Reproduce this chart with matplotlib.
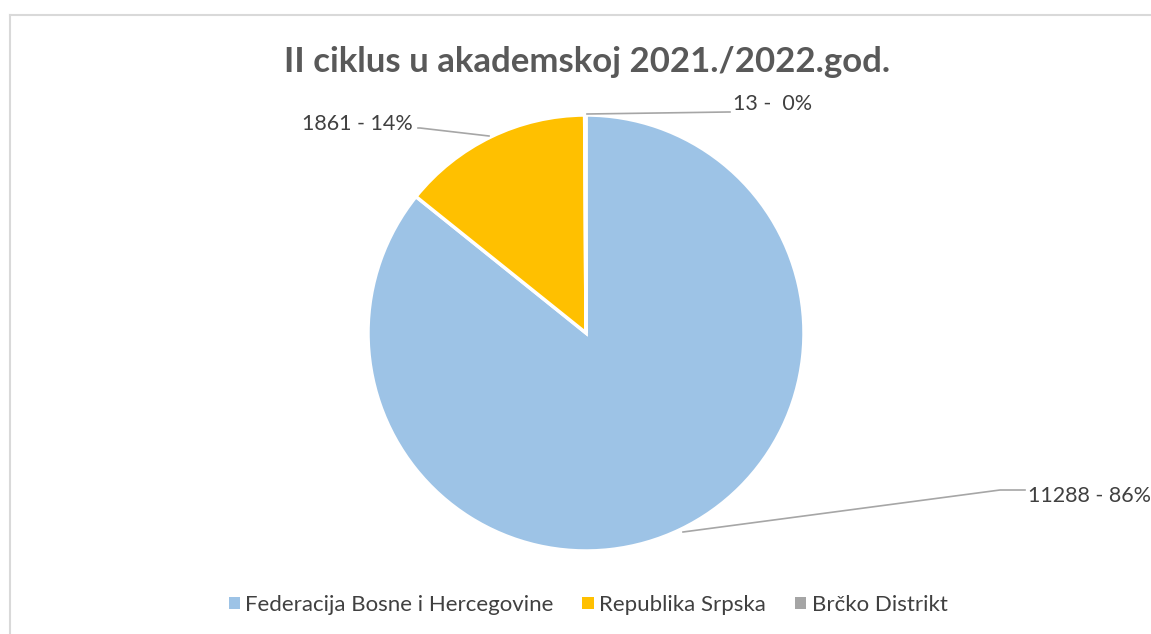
import matplotlib
matplotlib.use("Agg")
import matplotlib.pyplot as plt
from matplotlib.patches import Rectangle
from matplotlib.lines import Line2D

categories = ["Federacija Bosne i Hercegovine", "Republika Srpska", "Brčko Distrikt"]
values = [11288, 1861, 13]
pct_labels = ["86%", "14%", "0%"]
colors = ["#9DC3E6", "#FFC000", "#A5A5A5"]
title = "II ciklus u akademskoj 2021./2022.god."

W, H = 1151, 634
fig = plt.figure(figsize=(W / 100, H / 100), dpi=100)
fig.patch.set_facecolor("white")

# chart border (light grey), cut off at right/bottom
fig.add_artist(Line2D([10 / W, 10 / W], [0, 1 - 14.5 / H], color="#D9D9D9", lw=1.5,
                      transform=fig.transFigure))
fig.add_artist(Line2D([10 / W, 1], [1 - 14.5 / H, 1 - 14.5 / H], color="#D9D9D9", lw=1.5,
                      transform=fig.transFigure))

font = "Lato"
txt_color = "#404040"

fig.text(587 / W, 1 - 62 / H, title, ha="center", va="center", fontsize=25,
         fontweight="bold", color="#595959", family=font)

cx, cy, r = 586, 333, 218
ax = fig.add_axes([(cx - r) / W, (H - cy - r) / H, 2 * r / W, 2 * r / H])

wedges, _ = ax.pie(values, colors=colors, startangle=90, counterclock=False, radius=1,
                   wedgeprops=dict(edgecolor="white", linewidth=2.5))
ax.set_xlim(-1, 1)
ax.set_ylim(-1, 1)
ax.set_aspect("equal")
ax.axis("off")

def px(x, y):
    # pixel (image) coords to data coords of the pie axes
    return ((x - cx) / r, (cy - y) / r)

label_texts = [f"{v} - {p}" for v, p in zip(values, pct_labels)]
label_texts[2] = f"{values[2]} -  {pct_labels[2]}"

# leader lines and labels: (anchor on pie, elbow, end, text position, ha)
leaders = [
    [(683, 532), (1000, 490), (1025, 490), (1028, 496), "left"],
    [(489, 136), (420, 128), (418, 128), (413, 124), "right"],
    [(587, 114), (728, 112), (730, 112), (733, 104), "left"],
]
for lab, (a, b, c, t, ha) in zip(label_texts, leaders):
    xs, ys = zip(*[px(*a), px(*b), px(*c)])
    ax.plot(xs, ys, color="#A6A6A6", lw=1.2, clip_on=False)
    tx, ty = px(*t)
    ax.text(tx, ty, lab, ha=ha, va="center", fontsize=15.5, color=txt_color,
            family=font, clip_on=False)

handles = [Rectangle((0, 0), 1, 1, facecolor=c, edgecolor="none") for c in colors]
leg = fig.legend(handles, categories, loc="center", bbox_to_anchor=(588 / W, 1 - 605 / H),
                 ncol=3, frameon=False, handlelength=0.5, handleheight=0.5,
                 handletextpad=0.25, columnspacing=1.3,
                 prop=dict(family=font, size=16))
for t in leg.get_texts():
    t.set_color(txt_color)

fig.savefig("out.png", dpi=100, facecolor="white")
